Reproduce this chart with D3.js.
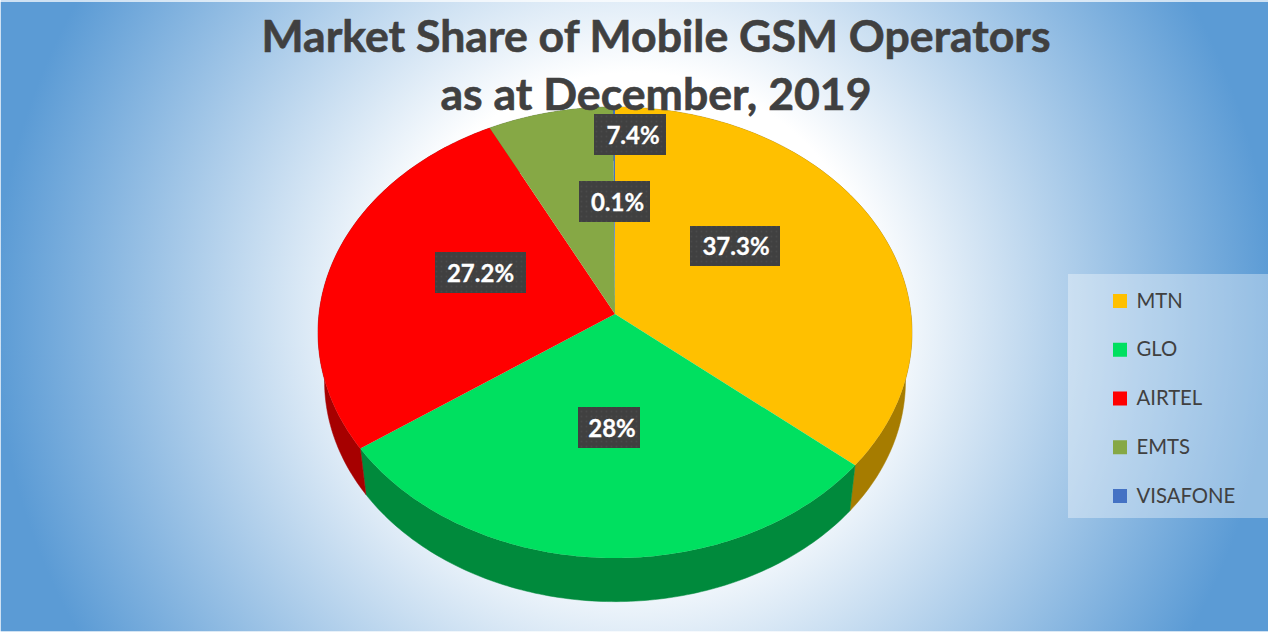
<!DOCTYPE html>
<html><head><meta charset="utf-8">
<script src="https://cdn.jsdelivr.net/npm/d3@7"></script>
<style>html,body{margin:0;padding:0;background:#fff;overflow:hidden}svg{display:block}</style>
</head><body><div id="chart"></div>
<script>
const titleLines = ["Market Share of Mobile GSM Operators", "as at December, 2019"];
const categories = ["MTN", "GLO", "AIRTEL", "EMTS", "VISAFONE"];
const sliceLabels = ["37.3%", "28%", "27.2%", "7.4%", "0.1%"];
// Slice sweeps as measured on the picture (the MTN/GLO edge sits a little off its label).
const sliceShares = [36.05, 29.25, 27.2, 7.4, 0.1];
const topColors = ["#ffc000", "#00e060", "#ff0000", "#86a845", "#4472c4"];
const sideColors = ["#a67c00", "#008a3c", "#a60000", "#57702d", "#2c4a80"];

const W = 1268, H = 632;
const cx = 615, cy = 314, R = 296, A = 224, k = 0.082;
const wallScale = 0.978, wallDrop = 49;

const svg = d3.select("#chart").append("svg").attr("width", W).attr("height", H)
  .attr("font-family", "Lato, 'Open Sans', sans-serif");
const defs = svg.append("defs");

const bg = defs.append("radialGradient").attr("id", "bg").attr("gradientUnits", "userSpaceOnUse")
  .attr("cx", 634).attr("cy", 316).attr("r", 640);
[[0.38, "#ffffff"], [1, "#5b9bd5"]].forEach(([o, c]) =>
  bg.append("stop").attr("offset", o).attr("stop-color", c));

const pat = defs.append("pattern").attr("id", "dots").attr("width", 5).attr("height", 5)
  .attr("patternUnits", "userSpaceOnUse");
pat.append("rect").attr("width", 5).attr("height", 5).attr("fill", "#404040");
pat.append("circle").attr("cx", 1.5).attr("cy", 1.5).attr("r", 0.9).attr("fill", "#4a4a4a");

svg.append("rect").attr("width", W).attr("height", H).attr("fill", "url(#bg)");
const edge = svg.append("g").attr("fill", "#fff").attr("fill-opacity", 0.7);
edge.append("rect").attr("width", W).attr("height", 2);
edge.append("rect").attr("width", 1).attr("height", H);
edge.append("rect").attr("y", H - 1).attr("width", W).attr("height", 1);

const project = (a, scale = 1, drop = 0) => {
  const x = Math.sin(a), v = -Math.cos(a), d = 1 - k * v;
  return [cx + scale * R * x / d, cy + drop + scale * A * v / d];
};

const pieLayout = d3.pie().sort(null).value(d => d).startAngle(0).endAngle(2 * Math.PI);
const slices = pieLayout(sliceShares);
const line = d3.line();
const rimAngles = s => d3.range(0, 121).map(i => s.startAngle + (s.endAngle - s.startAngle) * i / 120);

const walls = svg.append("g");
slices.forEach((s, i) => {
  const as = rimAngles(s);
  const pts = as.map(a => project(a)).concat(as.slice().reverse().map(a => project(a, wallScale, wallDrop)));
  walls.append("path").attr("d", line(pts) + "Z").attr("fill", sideColors[i]).attr("stroke", sideColors[i]).attr("stroke-width", 0.5);
});

const faces = svg.append("g");
slices.forEach((s, i) => {
  const pts = [[cx, cy]].concat(rimAngles(s).map(a => project(a)));
  faces.append("path").attr("d", line(pts) + "Z").attr("fill", topColors[i]);
});

svg.append("g").selectAll("text").data(titleLines).join("text")
  .attr("x", 656).attr("y", (d, i) => 52 + i * 57.5).attr("text-anchor", "middle")
  .attr("font-size", 44.6).attr("font-weight", 700).attr("fill", "#404040")
  .attr("stroke", "#404040").attr("stroke-width", 0.6).text(d => d);

// x, y, width, height, text shift inside the box
const labelBoxes = [[690, 226, 90, 40, 1], [578, 407, 62, 41, 3], [435, 252, 91, 41, 0], [594, 114, 72, 41, 3], [579, 181, 71, 41, 3]];
const labelG = svg.append("g");
sliceLabels.forEach((t, i) => {
  const [x, y, w, h, dx] = labelBoxes[i];
  labelG.append("rect").attr("x", x).attr("y", y).attr("width", w).attr("height", h).attr("fill", "url(#dots)");
  labelG.append("text").attr("x", x + w / 2 + dx).attr("y", y + h / 2 + 9).attr("text-anchor", "middle")
    .attr("font-size", 24).attr("font-weight", 700).attr("fill", "#fff")
    .attr("stroke", "#fff").attr("stroke-width", 0.3).text(t);
});

svg.append("rect").attr("x", 1068).attr("y", 274).attr("width", 200).attr("height", 244)
  .attr("fill", "#fff").attr("fill-opacity", 0.35);
const legendY = d3.scalePoint().domain(categories).range([301, 496]);
const legend = svg.append("g").selectAll("g").data(categories).join("g")
  .attr("transform", d => `translate(1113,${legendY(d)})`);
legend.append("rect").attr("y", -7).attr("width", 14).attr("height", 14).attr("fill", (d, i) => topColors[i]);
legend.append("text").attr("x", 23.5).attr("y", 6.5).attr("font-size", 20.3).attr("fill", "#404040").text(d => d);
</script></body></html>
